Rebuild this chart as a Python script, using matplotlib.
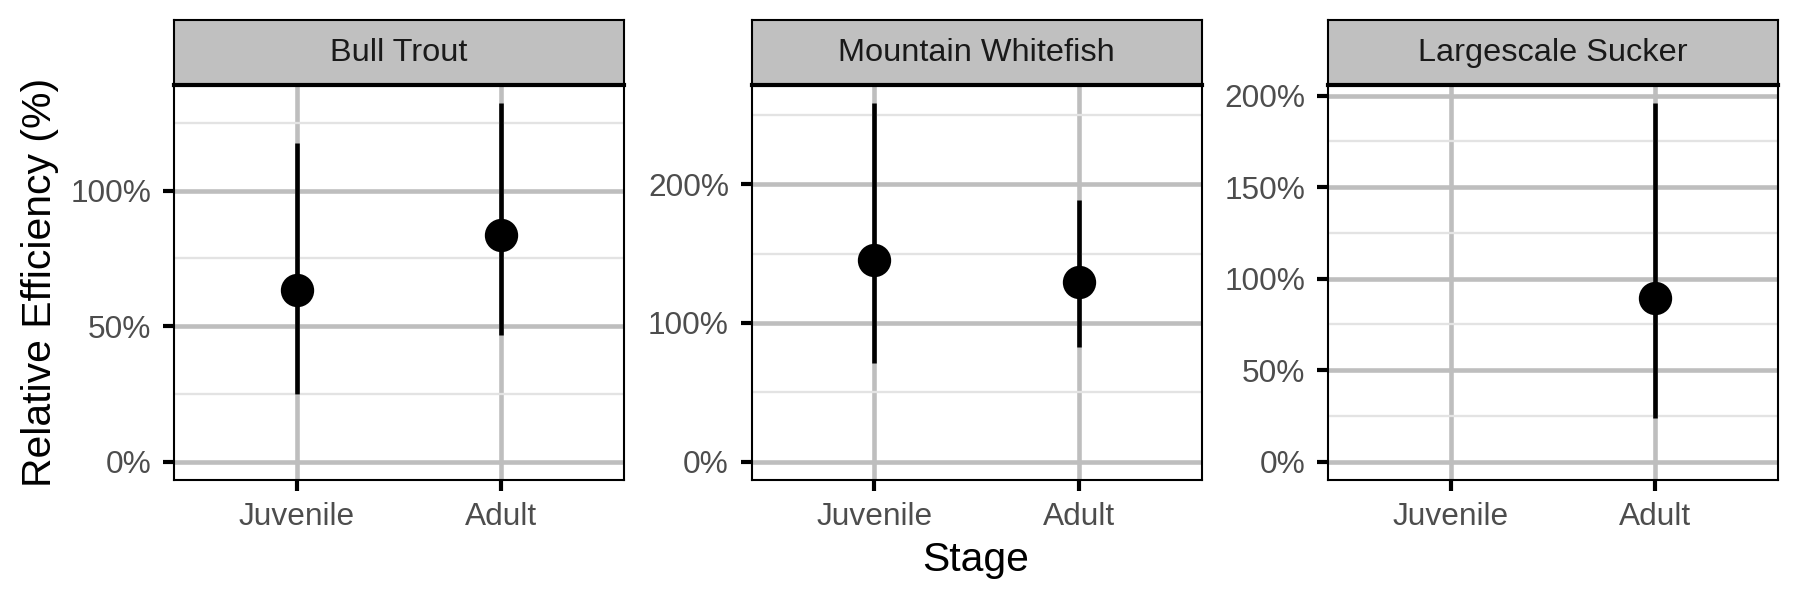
import numpy as np
import matplotlib
matplotlib.use("Agg")
import matplotlib.pyplot as plt
from matplotlib.ticker import FuncFormatter, MultipleLocator

plt.rcParams['font.family'] = ['Liberation Sans', 'DejaVu Sans']

species = ["Bull Trout", "Mountain Whitefish", "Largescale Sucker"]
stages = ["Juvenile", "Adult"]
estimate = {
    "Bull Trout": [63.5, 83.8],
    "Mountain Whitefish": [145.4, 129.6],
    "Largescale Sucker": [np.nan, 89.5],
}
lower = {
    "Bull Trout": [25.1, 46.6],
    "Mountain Whitefish": [71.0, 82.9],
    "Largescale Sucker": [np.nan, 23.6],
}
upper = {
    "Bull Trout": [117.7, 132.4],
    "Mountain Whitefish": [258.8, 188.5],
    "Largescale Sucker": [np.nan, 196.0],
}
major_step = {"Bull Trout": 50, "Mountain Whitefish": 100, "Largescale Sucker": 50}

W, H = 1800, 600
fig = plt.figure(figsize=(6, 2), dpi=300)

lefts = [174, 751.5, 1328]
pw = 450
top_px, bot_px, strip_top_px = 85, 479.5, 20.5

MAJ = "#BEBEBE"
MIN = "#E3E3E3"
TXT = "#4D4D4D"

for i, sp in enumerate(species):
    ax = fig.add_axes([lefts[i] / W, 1 - bot_px / H, pw / W, (bot_px - top_px) / H])
    x = np.arange(len(stages))
    est = np.array(estimate[sp], dtype=float)
    lo = np.array(lower[sp], dtype=float)
    hi = np.array(upper[sp], dtype=float)
    dmin = min(0, np.nanmin(lo))
    dmax = np.nanmax(hi)
    span = dmax - dmin
    ax.set_ylim(dmin - 0.05 * span, dmax + 0.05 * span)
    ax.set_xlim(-0.6, len(stages) - 1 + 0.6)
    step = major_step[sp]
    ax.yaxis.set_major_locator(MultipleLocator(step))
    ax.yaxis.set_minor_locator(MultipleLocator(step / 2))
    ax.yaxis.set_major_formatter(FuncFormatter(lambda v, p: f"{v:.0f}%"))
    ax.set_xticks(x)
    ax.set_xticklabels(stages)
    ax.grid(which="major", axis="both", color=MAJ, linewidth=1.1, zorder=0)
    ax.grid(which="minor", axis="y", color=MIN, linewidth=0.55, zorder=0)
    ax.set_axisbelow(True)
    ax.tick_params(axis="both", which="major", length=2.6, width=1.0, color="black",
                   labelsize=7.6, labelcolor=TXT, pad=2.8)
    ax.tick_params(axis="y", which="minor", length=0)
    for s in ax.spines.values():
        s.set_linewidth(0.5)
        s.set_color("black")
    ax.vlines(x, lo, hi, color="black", linewidth=1.1, zorder=3)
    ax.plot(x, est, "o", color="black", markersize=7.0, zorder=4, linestyle="none")

    # strip
    sax = fig.add_axes([lefts[i] / W, 1 - top_px / H, pw / W, (top_px - strip_top_px) / H])
    sax.set_xticks([]); sax.set_yticks([])
    sax.set_facecolor("#C0C0C0")
    for s in sax.spines.values():
        s.set_linewidth(0.5)
        s.set_color("black")
    sax.spines["bottom"].set_linewidth(1.0)
    sax.text(0.5, 0.5, sp, ha="center", va="center", fontsize=7.8, color="#1A1A1A",
             transform=sax.transAxes)

fig.text(40 / W, 1 - 282 / H, "Relative Efficiency (%)", rotation=90, ha="center",
         va="center", fontsize=9.8, color="black")
fig.text(976 / W, 1 - 560 / H, "Stage", ha="center", va="center", fontsize=9.8, color="black")

fig.savefig("out.png", dpi=300)
